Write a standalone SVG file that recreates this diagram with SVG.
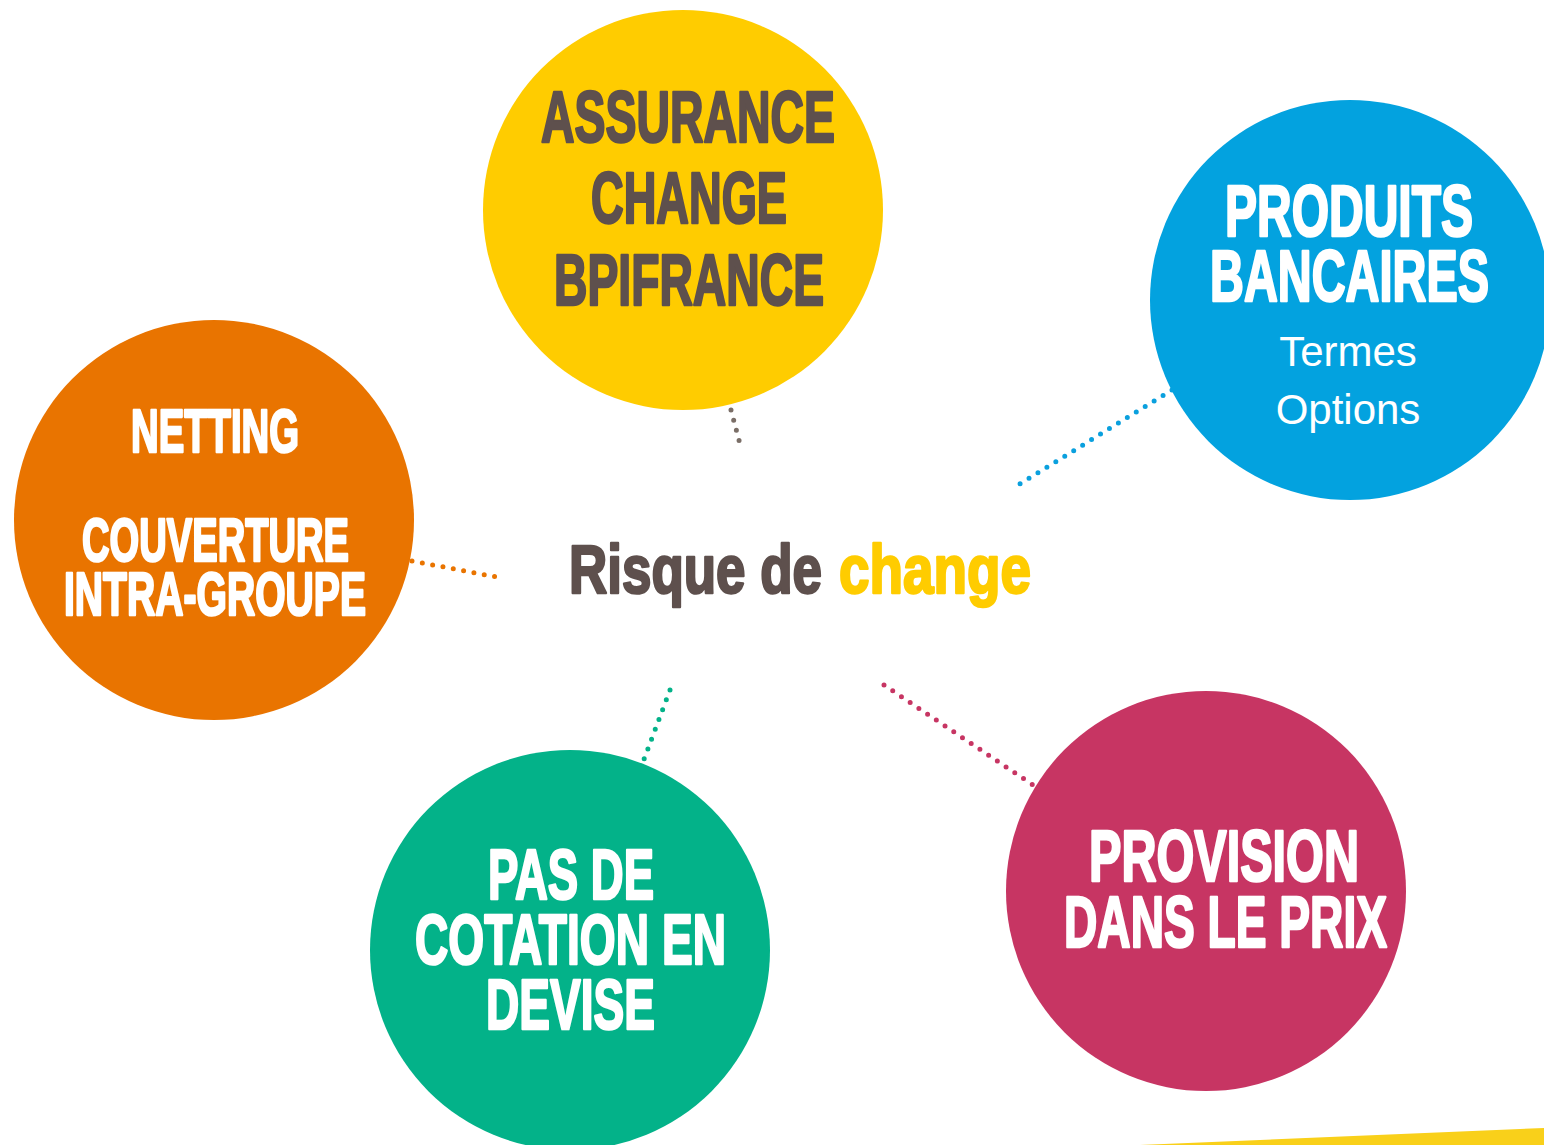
<svg xmlns="http://www.w3.org/2000/svg" width="1544" height="1145" viewBox="0 0 1544 1145">
<style>
.h{font-family:"Liberation Sans Narrow","Liberation Sans",Arial,sans-serif;font-weight:bold;stroke-width:2.6;stroke-linejoin:round;paint-order:stroke;}
.w{fill:#ffffff;stroke:#ffffff;}
.g{fill:#5e504d;stroke:#5e504d;}
.l{font-family:"Liberation Sans",Arial,sans-serif;font-weight:normal;fill:#ffffff;font-size:42px;}
.dot{fill:none;stroke-width:5;stroke-linecap:round;stroke-dasharray:0 10.5;}
</style>
<rect width="1544" height="1145" fill="#ffffff"/>
<polygon points="1140,1145 1544,1128 1544,1145" fill="#f9d01a"/>
<g id="connectors">
<line class="dot" x1="731" y1="410" x2="740" y2="444" stroke="#7a6e67"/>
<line class="dot" x1="1172" y1="390" x2="1018" y2="485" stroke="#0aa0de"/>
<line class="dot" x1="412" y1="561" x2="502" y2="578" stroke="#e97400"/>
<line class="dot" x1="670" y1="690" x2="643" y2="762" stroke="#03b289"/>
<line class="dot" x1="884" y1="685" x2="1036" y2="787" stroke="#c73563"/>
</g>
<g id="node-assurance">
<circle cx="683" cy="210" r="200" fill="#ffcc00"/>
<text class="h g" x="541" y="142" font-size="72" textLength="294" lengthAdjust="spacingAndGlyphs">ASSURANCE</text>
<text class="h g" x="591" y="223" font-size="72" textLength="196" lengthAdjust="spacingAndGlyphs">CHANGE</text>
<text class="h g" x="554" y="305" font-size="72" textLength="270" lengthAdjust="spacingAndGlyphs">BPIFRANCE</text>
</g>
<g id="node-produits">
<circle cx="1350" cy="300" r="200" fill="#03a2df"/>
<text class="h w" x="1225" y="236" font-size="72" textLength="248" lengthAdjust="spacingAndGlyphs">PRODUITS</text>
<text class="h w" x="1210" y="301" font-size="72" textLength="279" lengthAdjust="spacingAndGlyphs">BANCAIRES</text>
<text class="l" x="1348" y="366" text-anchor="middle">Termes</text>
<text class="l" x="1348" y="424" text-anchor="middle">Options</text>
</g>
<g id="node-netting">
<circle cx="214" cy="520" r="200" fill="#e97400"/>
<text class="h w" x="131" y="452" font-size="61" textLength="168" lengthAdjust="spacingAndGlyphs">NETTING</text>
<text class="h w" x="82" y="561" font-size="61" textLength="267" lengthAdjust="spacingAndGlyphs">COUVERTURE</text>
<text class="h w" x="64" y="615" font-size="61" textLength="302" lengthAdjust="spacingAndGlyphs">INTRA-GROUPE</text>
</g>
<g id="node-cotation">
<circle cx="570" cy="950" r="200" fill="#03b289"/>
<text class="h w" x="488" y="899" font-size="71" textLength="166" lengthAdjust="spacingAndGlyphs">PAS DE</text>
<text class="h w" x="415" y="964" font-size="71" textLength="311" lengthAdjust="spacingAndGlyphs">COTATION EN</text>
<text class="h w" x="486" y="1029" font-size="71" textLength="169" lengthAdjust="spacingAndGlyphs">DEVISE</text>
</g>
<g id="node-provision">
<circle cx="1206" cy="891" r="200" fill="#c73563"/>
<text class="h w" x="1089" y="881" font-size="72" textLength="270" lengthAdjust="spacingAndGlyphs">PROVISION</text>
<text class="h w" x="1064" y="947" font-size="72" textLength="323" lengthAdjust="spacingAndGlyphs">DANS LE PRIX</text>
</g>
<g id="node-center">
<text class="h" x="569" y="593" font-size="69" stroke-width="3"><tspan fill="#5e504d" stroke="#5e504d" textLength="253" lengthAdjust="spacingAndGlyphs">Risque de</tspan><tspan fill="#ffcc00" stroke="#ffcc00" x="839" textLength="192" lengthAdjust="spacingAndGlyphs">change</tspan></text>
</g>
</svg>
